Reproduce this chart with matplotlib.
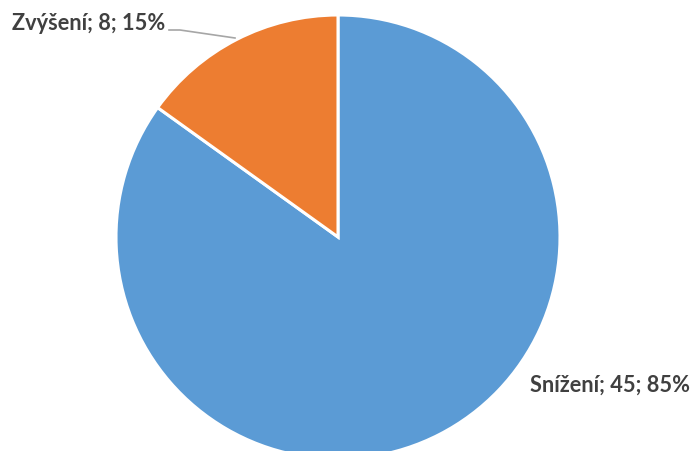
import matplotlib
matplotlib.use("Agg")

import matplotlib.pyplot as plt

labels = ["Snížení", "Zvýšení"]
values = [45, 8]
percents = [85, 15]
colors = ["#5B9BD5", "#ED7D31"]

W, H = 692, 451

fig = plt.figure(figsize=(W / 100, H / 100), dpi=100)
ax = fig.add_axes([0, 0, 1, 1])

# pie centred in pixel coords (bottom of it runs off the canvas)
cx, cy, r = 338, H - 237, 222
ax.pie(values, colors=colors, startangle=90, counterclock=False,
       center=(cx, cy), radius=r, frame=True,
       wedgeprops=dict(edgecolor="white", linewidth=2.2))
ax.set_xlim(0, W)
ax.set_ylim(0, H)
ax.set_aspect("equal")
ax.axis("off")

txt = dict(fontsize=15.7, fontweight="bold", color="#404040", family="Lato")
texts = [f"{l}; {v}; {p}%" for l, v, p in zip(labels, values, percents)]

ax.text(530, H - 385, texts[0], ha="left", va="center", **txt)
ax.text(12, H - 24, texts[1], ha="left", va="center", **txt)

# leader line for the small slice
ax.plot([169, 180, 235], [H - 30, H - 30, H - 38], color="#A6A6A6", lw=1.2)

fig.savefig("out.png", dpi=100)
plt.close(fig)
